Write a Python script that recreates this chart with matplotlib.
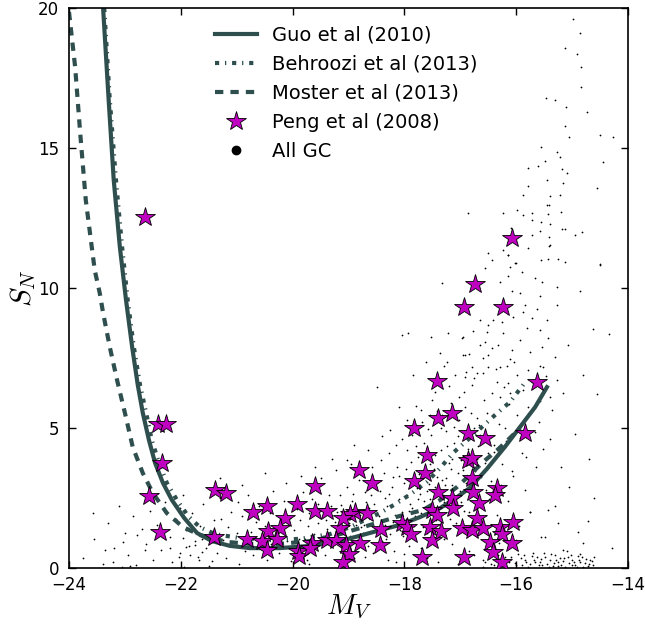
import matplotlib
matplotlib.use("Agg")
import matplotlib.pyplot as plt
from matplotlib.lines import Line2D

plt.rcParams['font.family'] = ['DejaVu Sans']
plt.rcParams['mathtext.fontset'] = 'cm'

# ---------------- data ----------------
# model curves
guo_mv = [-23.39, -23.29, -23.20, -23.09, -22.98, -22.87, -22.77, -22.68, -22.57, -22.46,
          -22.32, -22.16, -21.94, -21.71, -21.44, -21.12, -20.76, -20.23, -19.69, -19.15,
          -18.62, -18.08, -17.72, -17.36, -17.13, -16.83, -16.52, -16.20, -15.93, -15.66, -15.45]
guo_sn = [20.0, 16.7, 13.86, 11.46, 9.57, 7.89, 6.54, 5.54, 4.57, 3.75,
          3.04, 2.43, 1.79, 1.25, 0.96, 0.79, 0.71, 0.71, 0.79, 0.96,
          1.25, 1.54, 1.82, 2.14, 2.43, 2.86, 3.55, 4.33, 5.04, 5.75, 6.46]

behroozi_mv = [-23.37, -23.27, -23.16, -23.05, -22.95, -22.84, -22.73, -22.62, -22.52, -22.39,
               -22.25, -22.07, -21.87, -21.66, -21.39, -20.94, -20.40, -19.87, -19.33, -18.97,
               -18.71, -18.44, -18.13, -17.86, -17.60, -17.36, -17.13, -16.83, -16.61, -16.38,
               -16.11, -15.81]
behroozi_sn = [20.0, 16.71, 13.86, 11.46, 9.57, 7.89, 6.54, 5.54, 4.57, 3.75,
               3.04, 2.43, 1.86, 1.46, 1.21, 1.07, 1.0, 1.04, 1.21, 1.46,
               1.71, 1.96, 2.32, 2.68, 3.07, 3.57, 4.11, 4.64, 5.04, 5.46,
               5.93, 6.71]

moster_mv = [-24.0, -23.89, -23.80, -23.70, -23.54, -23.45, -23.39, -23.27, -23.14, -23.00,
             -22.86, -22.68, -22.50, -22.25, -21.96, -21.66, -21.17, -20.76, -20.23, -19.69,
             -19.15, -18.74, -18.08, -17.67, -17.36, -17.06, -16.83, -16.59, -16.34, -16.15, -15.93]
moster_sn = [19.86, 17.89, 15.54, 13.14, 10.64, 9.82, 9.11, 7.89, 6.71, 5.54,
             4.32, 3.39, 2.68, 1.96, 1.46, 1.18, 0.93, 0.86, 0.86, 0.96,
             1.21, 1.46, 1.86, 2.07, 2.43, 2.89, 3.32, 3.79, 4.21, 4.57, 5.0]

# Peng et al (2008) galaxies
peng_mv = [-22.64, -22.41, -22.27, -22.34, -22.57, -22.37, -21.39, -21.19, -21.41, -20.71,
           -20.46, -19.92, -19.60, -19.60, -19.39, -20.14, -20.44, -20.23, -20.82, -20.55,
           -20.28, -20.46, -19.90, -19.89, -19.65, -19.69, -19.39, -19.15, -19.22, -19.05,
           -18.99, -19.10, -18.79, -18.88, -18.97, -18.67, -19.10, -18.81, -18.58, -18.42,
           -18.44, -18.04, -17.95, -17.88, -17.83, -17.60, -17.63, -17.83, -17.42, -17.15,
           -17.40, -16.86, -16.56, -15.84, -15.63, -16.08, -16.74, -16.93, -16.24, -16.86,
           -16.79, -16.79, -17.40, -17.15, -17.13, -16.77, -16.67, -17.54, -17.51, -17.35,
           -17.69, -16.93, -16.97, -16.79, -16.70, -16.59, -17.51, -17.42, -16.34, -16.38,
           -16.29, -16.06, -16.25, -16.47, -16.08, -16.42, -16.25]
peng_sn = [12.54, 5.14, 5.14, 3.75, 2.57, 1.29, 2.79, 2.68, 1.11, 2.0,
           2.21, 2.29, 2.93, 2.04, 2.04, 1.79, 1.32, 1.43, 1.04, 0.96,
           1.04, 0.64, 0.61, 0.43, 0.89, 0.71, 1.0, 1.43, 1.0, 0.82,
           0.5, 0.21, 0.89, 2.0, 1.93, 1.96, 1.79, 3.5, 3.04, 1.39,
           0.82, 1.61, 1.46, 1.21, 5.0, 4.04, 3.39, 3.11, 6.68, 5.54,
           5.36, 4.82, 4.64, 4.82, 6.64, 11.79, 10.14, 9.32, 9.32, 3.86,
           3.93, 3.21, 2.71, 2.5, 2.14, 2.71, 2.32, 1.46, 1.0, 1.32,
           0.39, 0.39, 1.43, 1.36, 1.79, 1.43, 2.07, 1.89, 2.86, 2.61,
           1.46, 1.64, 1.21, 0.93, 0.89, 0.57, 0.21]

# All GC (individual systems), grouped by region of the diagram
gc_left = [(-23.75, 0.35), (-23.55, 1.05), (-23.4, 0.15), (-23.3, 1.6), (-23.2, 0.7), (-23.1, 2.2),
           (-23.0, 1.25), (-22.95, 0.45), (-22.85, 1.85), (-22.8, 0.1), (-22.7, 1.4), (-22.62, 0.85),
           (-22.55, 2.05), (-22.5, 0.3), (-22.42, 1.55), (-22.35, 0.65), (-22.28, 2.35), (-22.2, 1.1),
           (-22.15, 0.2), (-22.08, 1.75), (-22.02, 0.55), (-21.96, 2.6), (-21.9, 1.35), (-21.85, 0.8),
           (-21.8, 1.95), (-23.57, 1.96), (-23.36, 0.64), (-23.21, 0.21), (-23.03, 0.93), (-22.78, 1.18),
           (-22.64, 0.64), (-22.2, 0.7), (-22.03, 0.39), (-21.96, 1.07), (-21.9, 0.75), (-21.84, 0.46),
           (-21.75, 0.82), (-21.67, 0.29), (-21.72, 1.25), (-22.01, 2.14), (-21.62, 0.57),
           (-23.05, 0.05), (-22.9, 0.08), (-21.95, 0.05), (-21.5, 0.08)]
gc_mid = [(-21.75, 0.95), (-21.7, 0.4), (-21.65, 1.5), (-21.6, 2.3), (-21.55, 0.7), (-21.5, 1.15),
          (-21.45, 0.25), (-21.4, 1.7), (-21.35, 0.55), (-21.3, 2.5), (-21.25, 1.0), (-21.2, 0.35),
          (-21.15, 1.45), (-21.1, 2.0), (-21.05, 0.8), (-21.0, 1.25), (-20.95, 0.15), (-20.9, 1.85),
          (-20.85, 0.6), (-20.8, 2.6), (-20.75, 1.3), (-20.7, 0.45), (-20.65, 1.65), (-20.6, 2.2),
          (-20.55, 0.9), (-20.5, 1.5), (-20.45, 0.3), (-20.4, 1.95), (-20.35, 2.75), (-20.3, 1.2),
          (-20.25, 0.55), (-20.2, 1.6), (-20.15, 2.4), (-20.1, 0.95), (-20.05, 1.8), (-20.02, 0.25),
          (-21.62, 1.05), (-21.28, 1.75), (-20.98, 2.35), (-20.68, 1.1), (-20.38, 0.85), (-20.12, 3.05),
          (-19.97, 1.35), (-19.93, 2.1), (-19.9, 0.5), (-19.86, 1.7), (-19.82, 2.7), (-19.78, 1.05),
          (-19.74, 0.3), (-19.7, 1.95), (-19.66, 2.45), (-19.62, 1.2), (-19.58, 0.75), (-19.54, 1.6),
          (-19.5, 3.2), (-19.46, 2.05), (-19.42, 0.45), (-19.38, 1.4), (-19.34, 2.6), (-19.3, 1.85),
          (-19.26, 0.95), (-19.22, 3.5), (-19.18, 1.3), (-19.14, 2.25), (-19.1, 0.6), (-19.06, 1.75),
          (-19.02, 2.9), (-18.98, 1.15), (-18.94, 2.4), (-18.9, 0.35), (-18.86, 1.55), (-18.82, 3.15),
          (-18.78, 2.05), (-18.74, 1.25), (-18.7, 2.7), (-18.66, 0.8), (-18.62, 1.8), (-18.58, 3.6),
          (-18.54, 2.3), (-18.5, 1.4), (-19.88, 1.05), (-19.64, 2.95), (-19.48, 0.95), (-19.32, 2.2),
          (-19.12, 1.5), (-18.96, 3.7), (-18.84, 1.0), (-18.68, 2.35), (-18.56, 0.55), (-19.72, 1.5),
          (-19.4, 1.7), (-19.2, 2.0), (-19.0, 1.6), (-18.8, 1.9), (-18.6, 2.6), (-19.55, 2.3),
          (-19.25, 1.65), (-18.92, 2.65), (-18.72, 1.55), (-19.03, 3.86), (-18.49, 6.46),
          (-18.26, 4.93), (-17.95, 4.21)]
gc_core = [(-18.46, 1.85), (-18.43, 2.75), (-18.4, 0.95), (-18.37, 3.4), (-18.34, 1.55), (-18.31, 2.2),
           (-18.28, 4.1), (-18.25, 1.2), (-18.22, 2.9), (-18.19, 0.6), (-18.16, 1.9), (-18.13, 3.6),
           (-18.1, 2.45), (-18.07, 1.35), (-18.04, 4.6), (-18.01, 3.05), (-17.98, 1.75), (-17.95, 2.6),
           (-17.92, 0.8), (-17.89, 3.8), (-17.86, 2.15), (-17.83, 1.5), (-17.8, 4.35), (-17.77, 2.85),
           (-17.74, 3.35), (-17.71, 1.95), (-17.68, 5.2), (-17.65, 2.4), (-17.62, 3.95), (-17.59, 1.25),
           (-17.56, 3.0), (-17.53, 4.75), (-17.5, 2.2), (-17.47, 3.55), (-17.44, 1.7), (-17.41, 5.6),
           (-17.38, 2.75), (-17.35, 4.2), (-17.32, 3.15), (-17.29, 1.05), (-17.26, 4.9), (-17.23, 2.5),
           (-17.2, 3.75), (-17.17, 5.9), (-17.14, 2.95), (-17.11, 4.45), (-17.08, 1.6), (-17.05, 3.4),
           (-17.02, 5.3), (-16.99, 2.35), (-16.96, 4.0), (-16.93, 6.3), (-16.9, 3.05), (-16.87, 4.7),
           (-16.84, 2.0), (-16.81, 5.55), (-16.78, 3.6), (-16.75, 6.8), (-16.72, 2.6), (-16.69, 4.35),
           (-16.66, 5.1), (-16.63, 3.25), (-16.6, 1.35), (-16.57, 6.0), (-16.54, 2.8), (-16.51, 4.1),
           (-18.3, 0.3), (-18.0, 0.5), (-17.7, 0.7), (-17.4, 0.2), (-17.15, 0.85), (-16.85, 0.6),
           (-16.6, 0.3), (-18.2, 3.25), (-17.9, 2.3), (-17.6, 2.75), (-17.3, 2.35), (-17.0, 2.75),
           (-16.7, 3.9), (-18.35, 2.5), (-18.05, 2.0), (-17.75, 2.45), (-17.45, 2.9), (-17.15, 3.9),
           (-16.85, 3.3), (-17.85, 3.1), (-17.55, 3.7), (-17.25, 3.2), (-16.95, 3.5), (-16.65, 2.3),
           (-17.65, 4.45), (-17.35, 5.0), (-17.05, 4.7), (-16.75, 5.0), (-17.95, 5.3), (-17.5, 6.0),
           (-17.2, 6.5), (-16.9, 7.0)]
gc_core2 = [(-19.45, 1.15), (-19.35, 2.05), (-19.15, 2.6), (-19.05, 0.85), (-18.95, 1.85), (-18.88, 3.35),
            (-18.77, 1.45), (-18.64, 2.15), (-18.52, 2.95), (-18.47, 0.75), (-18.41, 3.85), (-18.33, 1.05),
            (-18.27, 2.65), (-18.21, 1.65), (-18.15, 4.4), (-18.09, 3.3), (-18.03, 1.15), (-17.97, 3.55),
            (-17.91, 2.05), (-17.87, 4.75), (-17.81, 1.85), (-17.76, 3.95), (-17.72, 2.65), (-17.67, 1.45),
            (-17.63, 3.45), (-17.58, 4.95), (-17.54, 2.45), (-17.49, 1.25), (-17.46, 4.05), (-17.42, 3.25),
            (-17.37, 1.85), (-17.33, 5.45), (-17.28, 2.95), (-17.24, 4.35), (-17.19, 1.75), (-17.16, 3.55),
            (-17.12, 5.05), (-17.07, 2.55), (-17.03, 6.1), (-16.98, 3.85), (-16.94, 2.05), (-16.91, 5.75),
            (-16.86, 4.25), (-16.82, 2.85), (-16.79, 6.55), (-16.74, 3.45), (-16.71, 5.35), (-16.67, 1.85),
            (-16.64, 4.75), (-16.59, 6.95), (-16.55, 3.75), (-16.52, 5.55), (-16.48, 2.45), (-16.44, 6.25),
            (-16.39, 4.15), (-16.36, 7.1), (-16.31, 5.15), (-16.27, 2.95), (-16.22, 6.45), (-16.18, 4.55),
            (-16.13, 5.85), (-16.08, 3.45), (-16.04, 7.35), (-15.98, 5.45), (-15.94, 4.65), (-15.88, 6.35),
            (-15.83, 3.95), (-15.78, 5.75), (-15.71, 6.65), (-15.66, 4.85), (-15.58, 5.95), (-15.52, 4.25),
            (-15.46, 6.85), (-15.36, 5.65), (-15.31, 7.55), (-15.16, 6.25), (-17.7, 5.65), (-17.55, 5.45),
            (-17.8, 5.8), (-17.45, 6.6), (-17.1, 6.9), (-16.85, 7.65), (-17.3, 7.2), (-18.1, 5.75),
            (-18.4, 4.7), (-18.65, 4.2), (-18.9, 4.4), (-19.3, 3.9), (-19.6, 3.6), (-19.85, 3.3),
            (-20.5, 3.4), (-20.9, 2.95), (-21.3, 3.2), (-19.7, 0.15), (-19.2, 0.25), (-18.7, 0.4),
            (-18.15, 0.2), (-17.6, 0.35), (-17.05, 0.15), (-16.75, 0.45)]
gc_right = [(-16.45, 3.1), (-16.35, 1.9), (-16.25, 3.7), (-16.15, 2.4), (-16.05, 3.3), (-15.95, 1.5),
            (-15.85, 2.8), (-15.75, 2.0), (-15.65, 3.6), (-15.55, 1.1), (-15.48, 1.11), (-15.25, 1.61),
            (-14.72, 1.68), (-14.8, 0.89), (-14.29, 0.71), (-15.16, 0.64), (-15.3, 2.2), (-15.05, 2.9),
            (-14.9, 1.3), (-14.6, 2.5), (-16.4, 4.4), (-16.2, 5.0), (-15.9, 4.1), (-15.6, 5.2),
            (-15.4, 4.6), (-15.2, 3.6), (-14.95, 4.8), (-14.7, 3.9), (-14.55, 6.2), (-14.8, 6.9),
            (-16.3, 0.9), (-16.0, 1.0), (-15.75, 2.0), (-15.43, 2.07)]
gc_floor = [(-16.55, 0.2), (-16.48, 0.35), (-16.4, 0.1), (-16.33, 0.45), (-16.25, 0.25), (-16.18, 0.08),
            (-16.1, 0.38), (-16.03, 0.18), (-15.97, 0.5), (-15.9, 0.12), (-15.84, 0.3), (-15.78, 0.05),
            (-15.72, 0.42), (-15.66, 0.2), (-15.6, 0.1), (-15.55, 0.33), (-15.5, 0.55), (-15.45, 0.15),
            (-15.4, 0.28), (-15.35, 0.07), (-15.3, 0.45), (-15.25, 0.22), (-15.2, 0.12), (-15.15, 0.36),
            (-15.1, 0.6), (-15.05, 0.18), (-15.0, 0.3), (-14.95, 0.1), (-14.9, 0.42), (-14.85, 0.22),
            (-14.8, 0.05), (-14.75, 0.33), (-14.7, 0.15), (-14.65, 0.25), (-14.6, 0.4), (-15.62, 0.4),
            (-15.38, 0.5), (-15.12, 0.05), (-14.88, 0.28), (-15.82, 0.22), (-15.28, 0.3), (-15.02, 0.48),
            (-14.72, 0.08), (-16.12, 0.2), (-15.92, 0.35), (-16.6, 0.05), (-16.45, 0.15), (-16.2, 0.4),
            (-16.0, 0.1), (-15.86, 0.45), (-15.75, 0.15), (-15.68, 0.3), (-15.58, 0.22), (-15.48, 0.4),
            (-15.42, 0.05), (-15.33, 0.18), (-15.22, 0.35), (-15.17, 0.25), (-15.07, 0.4), (-14.97, 0.2),
            (-14.92, 0.05), (-14.83, 0.38), (-14.77, 0.18), (-14.68, 0.3), (-14.62, 0.1), (-15.53, 0.1),
            (-15.26, 0.06), (-15.0, 0.12), (-14.85, 0.5), (-15.7, 0.55)]
gc_plume = [(-16.09, 12.14), (-15.57, 12.04), (-15.40, 11.54), (-15.13, 12.11), (-16.50, 11.25),
            (-16.15, 11.18), (-16.43, 11.0), (-15.13, 10.93), (-16.02, 10.89), (-16.56, 10.71),
            (-15.90, 10.57), (-16.15, 10.43), (-15.66, 10.36), (-15.54, 10.21), (-16.29, 10.21),
            (-15.27, 10.04), (-15.93, 9.82), (-16.07, 9.89), (-15.57, 9.71), (-15.27, 9.39),
            (-15.84, 9.39), (-15.88, 9.14), (-15.63, 9.25), (-15.72, 8.93), (-16.06, 8.96),
            (-15.45, 8.86), (-16.41, 8.86), (-16.65, 8.86), (-16.25, 8.79), (-16.50, 8.68),
            (-16.24, 8.39), (-15.81, 8.57), (-15.57, 8.50), (-16.52, 8.43), (-16.77, 8.46),
            (-16.97, 8.21), (-15.43, 8.21), (-16.56, 8.07), (-16.65, 7.96), (-16.43, 7.86),
            (-16.33, 7.96), (-16.08, 7.79), (-15.93, 8.14), (-15.54, 7.89), (-15.75, 7.71),
            (-16.50, 7.61), (-16.59, 7.50), (-16.11, 7.46), (-16.92, 7.61), (-17.24, 7.36),
            (-16.79, 7.18), (-16.50, 7.18), (-16.16, 7.21), (-15.57, 7.21), (-15.07, 7.96),
            (-18.04, 8.32), (-17.94, 8.39), (-17.52, 8.25), (-17.22, 8.39), (-16.95, 8.25),
            (-17.33, 10.18), (-16.86, 12.68), (-15.99, 12.79), (-15.41, 12.96), (-17.61, 7.36),
            (-17.85, 6.89), (-17.36, 7.68), (-16.95, 7.61), (-17.45, 6.29), (-16.92, 6.82),
            (-16.70, 6.96), (-16.29, 7.18), (-16.34, 6.64), (-16.15, 6.61), (-15.99, 6.89),
            (-15.79, 7.07), (-15.52, 7.18), (-15.27, 6.71), (-14.63, 8.54), (-14.34, 8.36),
            (-14.86, 9.89), (-14.50, 10.86), (-15.40, 6.11), (-16.29, 6.11), (-16.11, 6.25)]
gc_top = [(-15.13, 18.57), (-14.91, 18.36), (-14.84, 17.89), (-14.84, 17.18), (-15.47, 16.79),
          (-15.31, 16.71), (-15.11, 16.46), (-14.73, 16.29), (-15.13, 15.79), (-15.06, 15.39),
          (-14.50, 15.46), (-14.27, 15.39), (-15.56, 15.04), (-15.27, 14.86), (-15.22, 14.68),
          (-15.48, 14.54), (-15.79, 14.29), (-15.61, 14.36), (-15.18, 14.25), (-15.09, 14.11),
          (-14.45, 14.5), (-15.45, 13.86), (-15.16, 13.75), (-15.79, 13.64), (-14.55, 13.57),
          (-15.88, 13.32), (-15.40, 13.29), (-15.22, 13.32), (-15.45, 12.96), (-15.20, 12.71),
          (-16.24, 12.68), (-15.88, 12.61), (-15.72, 12.68), (-15.43, 12.64), (-15.72, 12.43),
          (-15.56, 12.36), (-15.40, 12.29), (-15.18, 12.11), (-14.82, 12.0), (-14.95, 11.89),
          (-15.72, 11.89), (-15.41, 11.82), (-16.24, 11.36), (-15.79, 11.43), (-16.15, 11.18),
          (-15.41, 11.5), (-16.0, 10.89), (-16.11, 10.75), (-15.56, 11.0), (-15.43, 11.04),
          (-15.25, 11.04), (-14.50, 10.82), (-14.98, 19.6), (-14.85, 19.1)]

gc_groups = [gc_left, gc_mid, gc_core, gc_core2, gc_right, gc_floor, gc_plume, gc_top]

# ---------------- figure ----------------
fig = plt.figure(figsize=(6.45, 6.24), dpi=100)
ax = fig.add_axes([69 / 645, 1 - 568 / 624, 559 / 645, 560 / 624])

for grp in gc_groups:
    gx = [p[0] for p in grp]
    gy = [p[1] for p in grp]
    ax.scatter(gx, gy, s=1.6, c='k', linewidths=0, zorder=1)

cc = '#2F4F4F'
ax.plot(guo_mv, guo_sn, '-', color=cc, lw=3, zorder=2)
ax.plot(behroozi_mv, behroozi_sn, color=cc, lw=3, dashes=(1.0, 1.4, 0.3, 1.4), zorder=2)
ax.plot(moster_mv, moster_sn, color=cc, lw=3, dashes=(2.0, 1.7), zorder=2)
ax.plot(peng_mv, peng_sn, '*', ms=15, mfc='#C000C0', mec='k', mew=0.6, ls='none', zorder=3)

ax.set_xlim(-24, -14)
ax.set_ylim(0, 20)
ax.set_xticks([-24, -22, -20, -18, -16, -14])
ax.set_yticks([0, 5, 10, 15, 20])
ax.tick_params(direction='in', top=True, right=True, labelsize=12, length=5, width=1, pad=6)
ax.tick_params(axis='y', pad=7)
for s in ax.spines.values():
    s.set_linewidth(1.2)
ax.set_xlabel('$M_V$', fontsize=21, labelpad=-1)
ax.set_ylabel('$S_N$', fontsize=21, labelpad=0)

handles = [
    Line2D([], [], color=cc, lw=3),
    Line2D([], [], color=cc, lw=3, dashes=(1.0, 1.4, 0.3, 1.4)),
    Line2D([], [], color=cc, lw=3, dashes=(2.0, 1.7)),
    Line2D([], [], marker='*', ms=15, mfc='#C000C0', mec='k', mew=0.6, ls='none'),
    Line2D([], [], marker='o', ms=6, mfc='k', mec='k', ls='none'),
]
labels = ['Guo et al (2010)', 'Behroozi et al (2013)', 'Moster et al (2013)',
          'Peng et al (2008)', 'All GC']
ax.legend(handles, labels, loc='upper left', bbox_to_anchor=(0.23, 1.0), frameon=False,
          fontsize=14, handlelength=2.15, labelspacing=0.52, numpoints=1, handletextpad=0.8)

fig.savefig('out.png', dpi=100, facecolor='white')
